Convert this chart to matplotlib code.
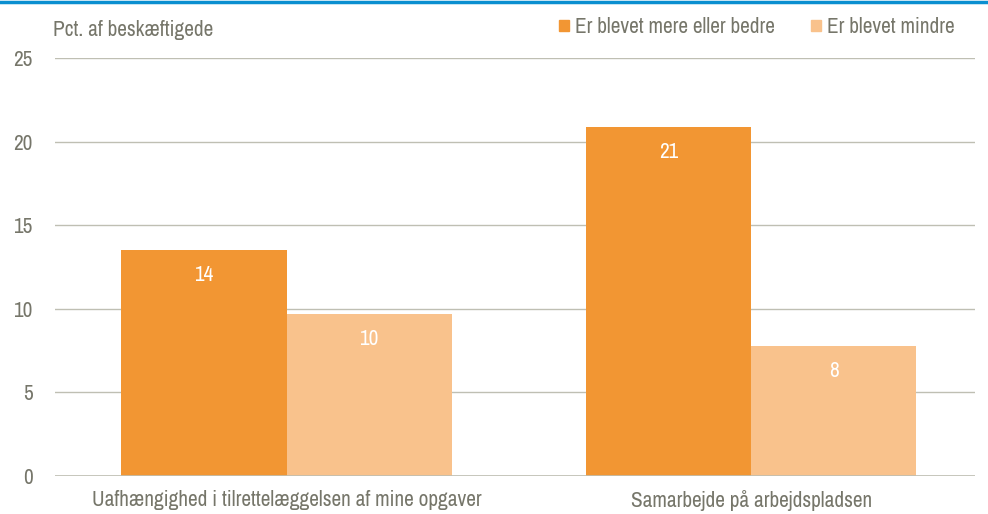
import matplotlib
matplotlib.use("Agg")
import matplotlib.pyplot as plt
from matplotlib.lines import Line2D
from matplotlib.patches import Rectangle
import numpy as np

plt.rcParams['font.family'] = ['Archivo Narrow', 'DejaVu Sans']

categories = ["Uafhængighed i tilrettelæggelsen af mine opgaver", "Samarbejde på arbejdspladsen"]
series_names = ["Er blevet mere eller bedre", "Er blevet mindre"]
values_more = [13.5, 20.9]
values_less = [9.7, 7.8]
labels_more = ["14", "21"]
labels_less = ["10", "8"]
yticks = [0, 5, 10, 15, 20, 25]

c_more = "#F29633"
c_less = "#F9C28C"
txt = "#76766A"
grid = "#BFBFB3"
fs = 15.3

fig = plt.figure(figsize=(9.88, 5.14), dpi=100)
ax = fig.add_axes([55/988, 1-476/514, 920/988, (476-58)/514])

x = np.arange(len(categories))
w = 0.355
b1 = ax.bar(x - w/2, values_more, w, color=c_more, label=series_names[0], zorder=3, linewidth=0)
b2 = ax.bar(x + w/2, values_less, w, color=c_less, label=series_names[1], zorder=3, linewidth=0)

for bars, labs in ((b1, labels_more), (b2, labels_less)):
    for r, l in zip(bars, labs):
        ax.annotate(l, (r.get_x() + r.get_width()/2, r.get_height()), xytext=(0, -25),
                    textcoords="offset pixels",
                    ha="center", va="center", color="white", fontsize=fs)

ax.set_xlim(-0.498, 1.481)
ax.set_ylim(0, 25)
ax.set_yticks(yticks)
ax.yaxis.grid(True, color=grid, linewidth=1, zorder=0)
ax.set_axisbelow(True)
for s in ax.spines.values():
    s.set_visible(False)
ax.axhline(0, color=grid, linewidth=1.2, zorder=4)
ax.tick_params(axis='y', length=0, pad=16, labelsize=fs, labelcolor=txt)
ax.tick_params(axis='x', length=0, pad=10, labelsize=fs, labelcolor=txt)
ax.set_xticks(x)
ax.set_xticklabels(categories)

fig.text(53/988, 1-30/514, "Pct. af beskæftigede", color=txt, fontsize=fs, va="center", ha="left")

handles = [Rectangle((0, 0), 1, 1, color=c_more), Rectangle((0, 0), 1, 1, color=c_less)]
leg = fig.legend(handles, series_names, loc="center right", bbox_to_anchor=(963/988, 1-27/514),
                 ncol=2, frameon=False, fontsize=fs, labelcolor=txt, handlelength=0.45, handleheight=0.45,
                 handletextpad=0.3, columnspacing=1.7, borderaxespad=0)

fig.add_artist(Line2D([0, 1], [1-2/514, 1-2/514], color="#0A8FD0", linewidth=2.5, transform=fig.transFigure))

fig.savefig("out.png", dpi=100)
